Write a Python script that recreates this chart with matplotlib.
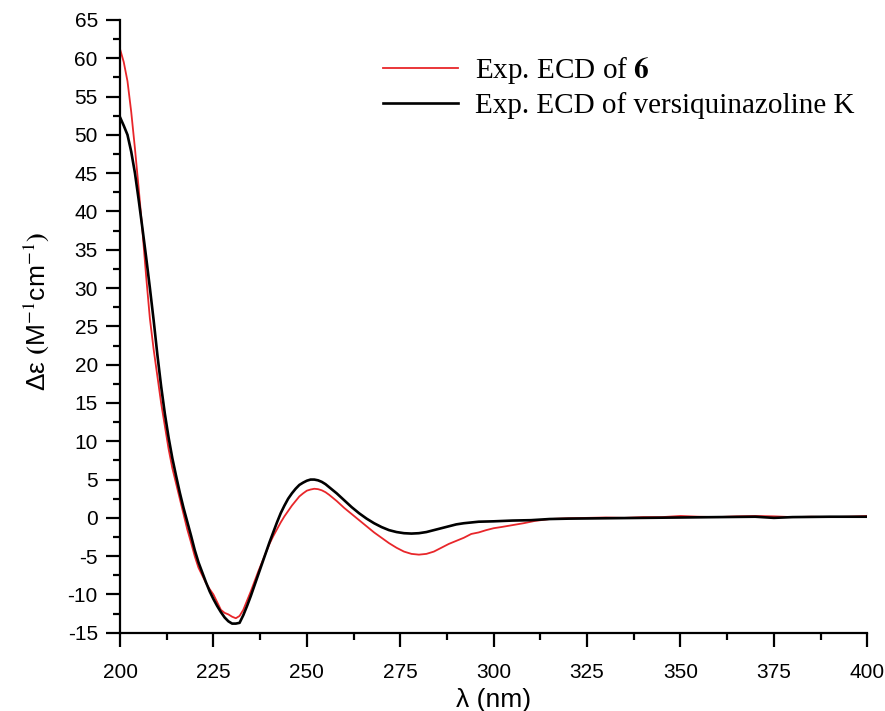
import numpy as np
import matplotlib
matplotlib.use('Agg')
import matplotlib.pyplot as plt
from matplotlib.ticker import MultipleLocator

# 数据
wl_red = [200, 201, 202, 203, 204, 205, 206, 207, 208, 209, 210, 211, 212, 213, 214, 215,
          216, 217, 218, 219, 220, 221, 222, 223, 224, 225, 226, 227, 228, 229, 230, 231,
          232, 233, 234, 235, 236, 237, 238, 239, 240, 241, 242, 243, 244, 245, 246, 247,
          248, 249, 250, 251, 252, 253, 254, 255, 256, 257, 258, 260, 262, 264, 266, 268,
          270, 272, 274, 276, 278, 280, 282, 284, 286, 288, 290, 292, 294, 296, 298, 300,
          302, 305, 308, 311, 315, 320, 325, 330, 335, 340, 345, 350, 355, 360, 365, 370,
          375, 380, 385, 390, 395, 400]
de_red = [61.2, 59.5, 57.0, 53.0, 48.2, 43.0, 37.5, 31.5, 26.0, 22.0, 18.5, 15.0, 12.0, 9.0,
          6.5, 4.5, 2.5, 0.5, -1.5, -3.2, -5.0, -6.5, -7.5, -8.5, -9.3, -10.0, -11.0, -12.0,
          -12.4, -12.6, -12.9, -13.1, -12.8, -12.0, -10.8, -9.6, -8.3, -7.0, -5.8, -4.6, -3.4,
          -2.4, -1.5, -0.6, 0.2, 0.9, 1.6, 2.2, 2.8, 3.2, 3.55, 3.7, 3.8, 3.75, 3.6, 3.35, 3.0,
          2.6, 2.2, 1.3, 0.5, -0.3, -1.1, -1.9, -2.6, -3.3, -3.9, -4.4, -4.7, -4.8, -4.7, -4.4,
          -3.9, -3.4, -3.0, -2.6, -2.1, -1.9, -1.6, -1.35, -1.2, -0.95, -0.7, -0.4, -0.15,
          -0.05, 0.0, 0.05, 0.0, 0.1, 0.1, 0.25, 0.15, 0.1, 0.2, 0.25, 0.2, 0.1, 0.15, 0.1,
          0.15, 0.25]

wl_blk = [200, 201, 202, 203, 204, 205, 206, 207, 208, 209, 210, 211, 212, 213, 214, 215,
          216, 217, 218, 219, 220, 221, 222, 223, 224, 225, 226, 227, 228, 229, 230, 231,
          232, 233, 234, 235, 236, 237, 238, 239, 240, 241, 242, 243, 244, 245, 246, 247,
          248, 249, 250, 251, 252, 253, 254, 255, 256, 258, 260, 262, 264, 266, 268, 270,
          272, 274, 276, 278, 280, 282, 284, 286, 288, 290, 292, 294, 296, 300, 305, 310,
          315, 320, 330, 340, 350, 360, 370, 375, 380, 390, 400]
de_blk = [52.3, 51.2, 50.0, 47.8, 45.0, 41.5, 37.8, 34.0, 30.0, 25.8, 21.3, 17.2, 13.6, 10.5,
          7.8, 5.5, 3.3, 1.3, -0.5, -2.3, -4.2, -5.8, -7.1, -8.4, -9.6, -10.6, -11.5, -12.3,
          -13.0, -13.5, -13.8, -13.8, -13.7, -12.7, -11.5, -10.2, -8.8, -7.4, -6.0, -4.6, -3.2,
          -1.9, -0.6, 0.6, 1.6, 2.5, 3.2, 3.8, 4.3, 4.6, 4.85, 5.0, 5.0, 4.9, 4.7, 4.4, 4.0,
          3.2, 2.3, 1.4, 0.6, -0.1, -0.7, -1.2, -1.6, -1.85, -2.0, -2.05, -2.0, -1.85, -1.6,
          -1.35, -1.1, -0.85, -0.7, -0.6, -0.5, -0.45, -0.35, -0.3, -0.15, -0.1, -0.05, 0.0,
          0.05, 0.1, 0.15, 0.0, 0.1, 0.15, 0.15]

plt.rcParams['font.family'] = ['Liberation Sans', 'DejaVu Sans']
plt.rcParams['mathtext.fontset'] = 'stix'
plt.rcParams['axes.unicode_minus'] = False

fig = plt.figure(figsize=(8.85, 7.11), dpi=100)
ax = fig.add_axes([0.1356, 0.110, 0.8444, 0.862])

ax.plot(wl_red, de_red, color='#e8262a', lw=1.3, label='Exp. ECD of $\\mathbf{6}$')
ax.plot(wl_blk, de_blk, color='black', lw=1.9, label='Exp. ECD of versiquinazoline K')

ax.set_xlim(200, 400)
ax.set_ylim(-15, 65)
ax.xaxis.set_major_locator(MultipleLocator(25))
ax.xaxis.set_minor_locator(MultipleLocator(12.5))
ax.yaxis.set_major_locator(MultipleLocator(5))
ax.yaxis.set_minor_locator(MultipleLocator(2.5))

for s in ['top', 'right']:
    ax.spines[s].set_visible(False)
for s in ['left', 'bottom']:
    ax.spines[s].set_linewidth(1.6)

ax.tick_params(which='major', direction='out', length=10, width=1.6, labelsize=15)
ax.tick_params(which='minor', direction='out', length=5, width=1.6)
ax.tick_params(axis='x', pad=12)
ax.tick_params(axis='y', pad=6)

ax.set_xlabel('λ (nm)', fontsize=19, labelpad=4)
ax.set_ylabel('Δε $\\mathbf{(}$M$^{-1}$cm$^{-1}$$\\mathbf{)}$', fontsize=19)
ax.yaxis.set_label_coords(-0.092, 0.525)

leg = ax.legend(loc='upper left', bbox_to_anchor=(0.317, 0.985), frameon=False,
                prop={'family': 'Liberation Serif', 'size': 21},
                handlelength=2.57, handletextpad=0.58, labelspacing=0.2)

fig.savefig('out.png', dpi=100)
